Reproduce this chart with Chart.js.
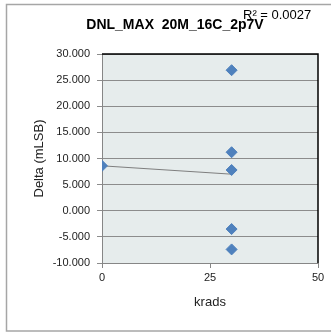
<!DOCTYPE html>
<html>
<head>
<meta charset="utf-8">
<script src="https://cdn.jsdelivr.net/npm/chart.js@4/dist/chart.umd.min.js"></script>
<style>
  html, body { margin: 0; padding: 0; background: #fff; }
  #wrap { width: 331px; height: 333px; position: relative; }
</style>
</head>
<body>
<div id="wrap"><canvas id="graph" width="331" height="333"></canvas></div>
<script>
// values
const titleText = 'DNL_MAX  20M_16C_2p7V';
const r2Text = 'R\u00b2 = 0.0027';
const doseX = [0, 30, 30, 30, 30, 30];
const deltaY = [8.6, 26.9, 11.2, 7.8, -3.5, -7.4];
const trendX = [0, 30];
const trendY = [8.6, 7.0];
const xTicks = [0, 25, 50];
const yMin = -10, yMax = 30, yStep = 5;

const FONT = "'Liberation Sans', Arial, sans-serif";
const pts = doseX.map((x, i) => ({ x: x, y: deltaY[i] }));
const trend = trendX.map((x, i) => ({ x: x, y: trendY[i] }));

// plot background, frame and the texts Excel puts outside the axes
const decor = {
  id: 'decor',
  beforeDraw(chart) {
    const { ctx, chartArea: a } = chart;
    ctx.save();
    ctx.fillStyle = '#e6ecec';
    ctx.fillRect(a.left, a.top, a.right - a.left, a.bottom - a.top);
    ctx.strokeStyle = '#a6a6a6';
    ctx.lineWidth = 1.5;
    ctx.strokeRect(6.5, 4.5, 340, 326.5);
    ctx.restore();
  },
  afterDatasetsDraw(chart) {
    const { ctx, chartArea: a } = chart;
    ctx.save();
    ctx.strokeStyle = '#000';
    ctx.lineWidth = 1.5;
    ctx.beginPath();
    ctx.moveTo(a.left, a.top);
    ctx.lineTo(a.right, a.top);
    ctx.lineTo(a.right, a.bottom);
    ctx.stroke();
    ctx.fillStyle = '#000';
    ctx.textBaseline = 'middle';
    ctx.textAlign = 'center';
    ctx.font = 'bold 14px ' + FONT;
    ctx.fillText(titleText, 175, 25);
    ctx.font = '13px ' + FONT;
    ctx.textAlign = 'left';
    ctx.fillText(r2Text, 243, 15);
    ctx.restore();
  }
};

new Chart(document.getElementById('graph'), {
  type: 'scatter',
  data: {
    datasets: [{
      data: pts,
      pointStyle: 'rectRot',
      pointRadius: 5.5,
      pointHoverRadius: 5.5,
      backgroundColor: '#4f81bd',
      borderColor: '#4f81bd',
      borderWidth: 1,
      order: 1
    }, {
      type: 'line',
      data: trend,
      borderColor: '#7f7f7f',
      borderWidth: 1,
      pointRadius: 0,
      fill: false,
      order: 2
    }]
  },
  options: {
    responsive: false,
    animation: false,
    events: [],
    layout: { padding: { left: 0, right: 13, top: 54, bottom: 0 } },
    plugins: { legend: { display: false }, title: { display: false }, tooltip: { enabled: false } },
    scales: {
      x: {
        type: 'linear',
        min: 0, max: 50,
        afterBuildTicks: s => { s.ticks = xTicks.map(v => ({ value: v })); },
        afterFit: s => { s.height = 70; },
        grid: { display: true, drawOnChartArea: false, drawTicks: true, tickLength: 5, color: '#868686' },
        border: { color: '#868686', width: 1 },
        ticks: { color: '#222', font: { family: FONT, size: 11 }, padding: 3, maxRotation: 0 },
        title: { display: true, text: 'krads', color: '#222', font: { family: FONT, size: 13 }, padding: { top: 0, bottom: 23 } }
      },
      y: {
        min: yMin, max: yMax,
        ticks: {
          stepSize: yStep,
          color: '#222',
          font: { family: FONT, size: 11 },
          padding: 7,
          callback: v => v.toFixed(3)
        },
        afterFit: s => { s.width = 102; },
        grid: { color: '#8c8c8c', lineWidth: 1, tickLength: 5 },
        border: { color: '#868686', width: 1 },
        title: { display: true, text: 'Delta (mLSB)', color: '#222', font: { family: FONT, size: 13 }, padding: { top: 32, bottom: 0 } }
      }
    }
  },
  plugins: [decor]
});
</script>
</body>
</html>
